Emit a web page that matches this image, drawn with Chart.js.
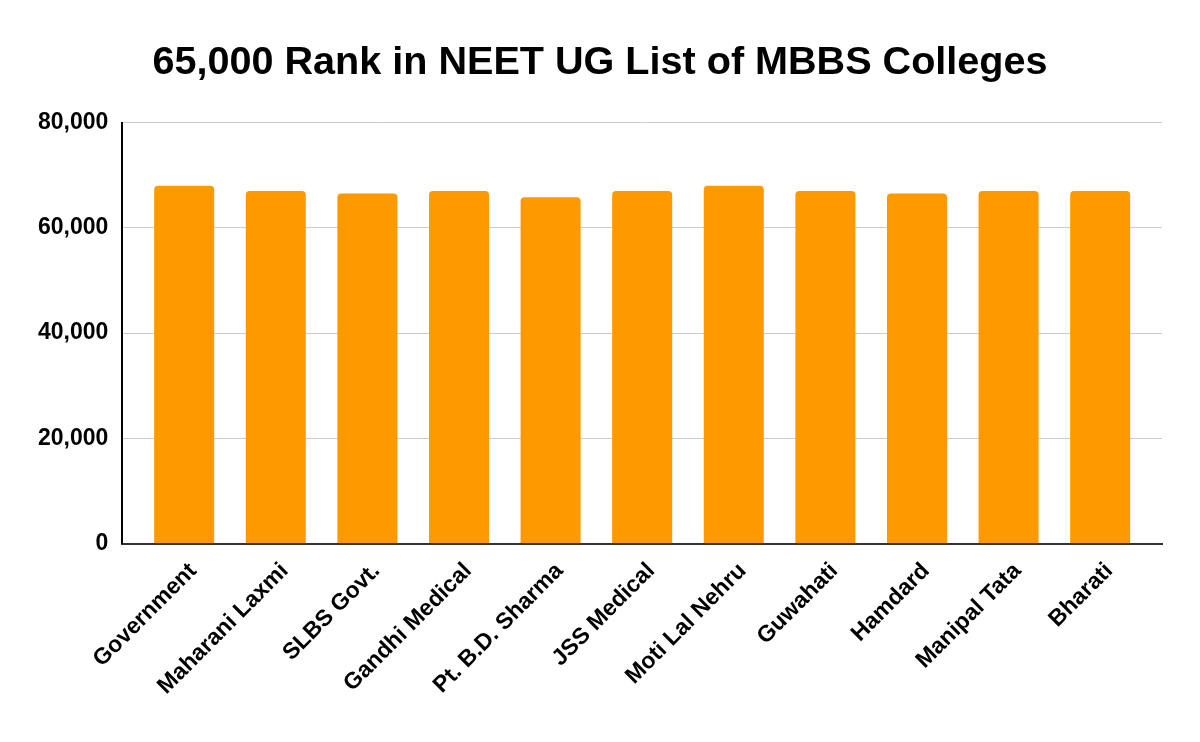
<!DOCTYPE html>
<html>
<head>
<meta charset="utf-8">
<script src="https://cdn.jsdelivr.net/npm/chart.js@4.4.0/dist/chart.umd.min.js"></script>
<style>
  html, body { margin: 0; padding: 0; background: #fff; }
  #wrap { width: 1200px; height: 742px; }
</style>
</head>
<body>
<div id="wrap"><canvas id="chart" width="1200" height="742"></canvas></div>
<script>
const colleges = [
   "Government",
   "Maharani Laxmi",
   "SLBS Govt.",
   "Gandhi Medical",
   "Pt. B.D. Sharma",
   "JSS Medical",
   "Moti Lal Nehru",
   "Guwahati",
   "Hamdard",
   "Manipal Tata",
   "Bharati",
];
const ranks = [68000, 67000, 66500, 67000, 65800, 67000, 68000, 67000, 66500, 67000, 67000];
const yTicks = [0, 20000, 40000, 60000, 80000];

const FONT = "'Liberation Sans', Arial, sans-serif";
// extra empty space at both ends of the category axis, in category units
const EDGE = 0.175;

const ctx = document.getElementById("chart").getContext("2d");

new Chart(ctx, {
   type: "bar",
   data: {
      labels: colleges,
      datasets: [
         {
            label: "Rank",
            data: ranks,
            backgroundColor: "#ff9900",
            borderRadius: { topLeft: 4, topRight: 4 },
            borderSkipped: false,
            barPercentage: 0.655,
            categoryPercentage: 1,
         },
      ],
   },
   options: {
      responsive: false,
      animation: false,
      layout: {
         padding: { left: 38, right: 38, top: 0, bottom: 36 },
      },
      plugins: {
         legend: { display: false },
         tooltip: { enabled: false },
         title: {
            display: true,
            text: "65,000 Rank in NEET UG List of MBBS Colleges",
            color: "#000",
            font: { family: FONT, size: 39.6, weight: "bold" },
            padding: { top: 39, bottom: 36 },
         },
      },
      scales: {
         x: {
            afterBuildTicks: (scale) => {
               scale._startValue -= EDGE;
               scale._valueRange += 2 * EDGE;
            },
            grid: { display: false },
            border: { color: "#333", width: 2 },
            ticks: {
               color: "#000",
               font: { family: FONT, size: 23, weight: "bold" },
               maxRotation: 45,
               minRotation: 45,
               autoSkip: false,
               padding: 6,
               labelOffset: 9,
            },
         },
         y: {
            min: 0,
            max: 80000,
            afterBuildTicks: (scale) => {
               scale.ticks = yTicks.map((v) => ({ value: v }));
            },
            // let the tick labels hang into the left padding so the title stays centred
            afterFit: (scale) => {
               scale.width -= 14;
            },
            grid: { color: "#cccccc", lineWidth: 1, drawTicks: false },
            border: { color: "#000", width: 2 },
            ticks: {
               color: "#000",
               font: { family: FONT, size: 23, weight: "bold" },
               padding: 14,
               callback: (v) => v.toLocaleString("en-US"),
            },
         },
      },
   },
});
</script>
</body>
</html>
